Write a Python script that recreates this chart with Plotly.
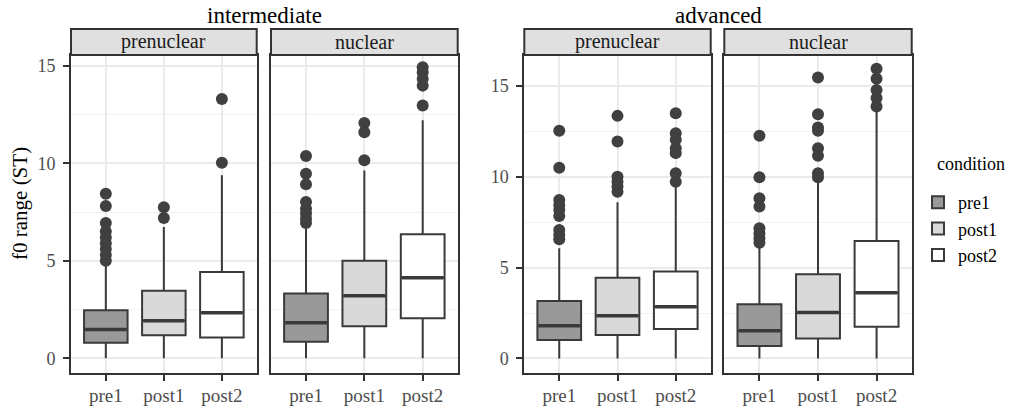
import plotly.graph_objects as go

conditions = ["pre1", "post1", "post2"]
groups = ["intermediate", "advanced"]
facets = ["prenuclear", "nuclear"]

# intermediate / prenuclear
int_pre_q1 = [0.80, 1.19, 1.07]
int_pre_med = [1.48, 1.93, 2.34]
int_pre_q3 = [2.47, 3.46, 4.43]
int_pre_lo = [0.0, 0.0, 0.0]
int_pre_hi = [4.86, 6.73, 9.38]
int_pre_out = [[8.44, 7.81, 6.94, 6.5, 6.2, 5.9, 5.6, 5.3, 5.0], [7.75, 7.19], [13.3, 10.03]]

# intermediate / nuclear
int_nuc_q1 = [0.85, 1.65, 2.05]
int_nuc_med = [1.82, 3.21, 4.13]
int_nuc_q3 = [3.32, 5.00, 6.36]
int_nuc_lo = [0.0, 0.0, 0.0]
int_nuc_hi = [6.73, 9.63, 12.2]
int_nuc_out = [[10.37, 9.46, 8.92, 8.01, 7.67, 7.42, 7.16, 6.94], [12.07, 11.59, 10.15], [14.92, 14.66, 14.32, 13.98, 12.96]]

# advanced / prenuclear
adv_pre_q1 = [1.01, 1.29, 1.62]
adv_pre_med = [1.80, 2.35, 2.85]
adv_pre_q3 = [3.16, 4.44, 4.78]
adv_pre_lo = [0.0, 0.0, 0.0]
adv_pre_hi = [6.06, 8.60, 9.46]
adv_pre_out = [[12.53, 10.5, 8.72, 8.45, 8.17, 7.84, 7.07, 6.8, 6.56], [13.35, 11.94, 10.0, 9.73, 9.46, 9.18], [13.5, 12.4, 12.03, 11.57, 11.3, 10.19, 9.73]]

# advanced / nuclear
adv_nuc_q1 = [0.68, 1.10, 1.74]
adv_nuc_med = [1.52, 2.53, 3.62]
adv_nuc_q3 = [2.99, 4.63, 6.46]
adv_nuc_lo = [0.0, 0.0, 0.0]
adv_nuc_hi = [6.15, 9.73, 13.59]
adv_nuc_out = [[12.25, 9.97, 8.82, 8.36, 7.16, 6.89, 6.61, 6.37], [15.46, 13.44, 12.71, 12.53, 11.57, 11.15, 10.19, 9.97], [15.94, 15.39, 14.78, 14.33, 13.87]]

y_ticks = [0, 5, 10, 15]

panels = [
    (int_pre_q1, int_pre_med, int_pre_q3, int_pre_lo, int_pre_hi, int_pre_out),
    (int_nuc_q1, int_nuc_med, int_nuc_q3, int_nuc_lo, int_nuc_hi, int_nuc_out),
    (adv_pre_q1, adv_pre_med, adv_pre_q3, adv_pre_lo, adv_pre_hi, adv_pre_out),
    (adv_nuc_q1, adv_nuc_med, adv_nuc_q3, adv_nuc_lo, adv_nuc_hi, adv_nuc_out),
]

fills = ["#999999", "#d9d9d9", "#ffffff"]
line_col = "#3a3a3a"
W, H = 1025, 407
FONT = "Liberation Serif"
box_w = 0.75

x_dom = [(71, 256.7), (271, 457.7), (524.3, 710.7), (724.3, 911.7)]
y_dom = (1 - 373 / H, 1 - 55 / H)
y_ranges = [(-0.75, 15.55), (-0.75, 15.55), (-0.8, 16.7), (-0.8, 16.7)]

fig = go.Figure()
layout = {}
for p, (q1, med, q3, lo, hi, out) in enumerate(panels):
    ax = "" if p == 0 else str(p + 1)
    xa, ya = "x" + ax, "y" + ax
    for i, c in enumerate(conditions):
        fig.add_trace(go.Box(
            x=[i], q1=[q1[i]], median=[med[i]], q3=[q3[i]],
            lowerfence=[lo[i]], upperfence=[hi[i]],
            width=box_w, whiskerwidth=0, boxpoints=False,
            fillcolor=fills[i], line=dict(color=line_col, width=2),
            name=c, legendgroup=c, showlegend=(p == 0),
            xaxis=xa, yaxis=ya, hoverinfo="skip"))
        fig.add_trace(go.Scatter(
            x=[i - box_w / 2 + 0.02, i + box_w / 2 - 0.02], y=[med[i], med[i]],
            mode="lines", line=dict(color=line_col, width=3.5),
            showlegend=False, xaxis=xa, yaxis=ya, hoverinfo="skip"))
        fig.add_trace(go.Scatter(
            x=[i] * len(out[i]), y=out[i], mode="markers",
            marker=dict(color="#404040", size=12, line=dict(width=0)),
            showlegend=False, xaxis=xa, yaxis=ya, hoverinfo="skip"))
    x0, x1 = x_dom[p]
    layout["xaxis" + ax] = dict(
        domain=[x0 / W, x1 / W], range=[-0.6, 2.6],
        tickvals=[0, 1, 2], ticktext=conditions, anchor=ya,
        showgrid=True, gridcolor="#ebebeb", gridwidth=1.5,
        showline=True, linecolor="#333333", linewidth=2, mirror=True,
        ticks="outside", ticklen=6, tickwidth=1.5, tickcolor="#333333",
        ticklabelstandoff=-2,
        tickfont=dict(family=FONT, size=19, color="#4d4d4d"),
        zeroline=False, fixedrange=True)
    show_labels = p in (0, 2)
    layout["yaxis" + ax] = dict(
        domain=list(y_dom), range=list(y_ranges[p]), anchor=xa,
        tickvals=y_ticks, showticklabels=show_labels,
        ticks="outside" if show_labels else "", ticklen=6, tickwidth=1.5, tickcolor="#333333",
        ticklabelstandoff=4,
        showgrid=True, gridcolor="#ebebeb", gridwidth=1.5,
        minor=dict(dtick=2.5, tick0=0, showgrid=True, gridcolor="#f2f2f2", gridwidth=0.8),
        showline=True, linecolor="#333333", linewidth=2, mirror=True,
        tickfont=dict(family=FONT, size=18, color="#4d4d4d"),
        zeroline=False, fixedrange=True)

shapes = []
annotations = []
for p in range(4):
    ax = "x" if p == 0 else "x" + str(p + 1)
    shapes.append(dict(type="rect", xref=ax + " domain", yref="paper",
                       x0=0, x1=1, y0=1 - 55 / H, y1=1 - 29 / H,
                       fillcolor="#e0e0e0", line=dict(color="#333333", width=2), layer="above"))
    x0, x1 = x_dom[p]
    annotations.append(dict(text=facets[p % 2], x=(x0 + x1) / 2 / W, y=1 - 42 / H,
                            xref="paper", yref="paper", showarrow=False,
                            xanchor="center", yanchor="middle",
                            font=dict(family=FONT, size=20, color="#1a1a1a")))
for g in range(2):
    gx = (x_dom[2 * g][0] + x_dom[2 * g + 1][1]) / 2 / W
    annotations.append(dict(text=groups[g], x=gx, y=1 - 15 / H, xref="paper", yref="paper",
                            showarrow=False, xanchor="center", yanchor="middle",
                            font=dict(family=FONT, size=23, color="#000000")))
annotations.append(dict(text="f0 range (ST)", x=20 / W, y=1 - 204 / H, xref="paper", yref="paper",
                        showarrow=False, textangle=-90, xanchor="center", yanchor="middle",
                        font=dict(family=FONT, size=21, color="#000000")))
annotations.append(dict(text="condition", x=935 / W, y=1 - 164 / H, xref="paper", yref="paper",
                        showarrow=False, xanchor="left", yanchor="middle",
                        font=dict(family=FONT, size=18, color="#000000")))

fig.update_layout(
    width=W, height=H, margin=dict(l=0, r=0, t=0, b=0),
    paper_bgcolor="white", plot_bgcolor="white",
    boxmode="overlay",
    shapes=shapes, annotations=annotations,
    legend=dict(x=918 / W, y=1 - 184 / H, xanchor="left", yanchor="top",
                font=dict(family=FONT, size=18, color="#000000"),
                tracegroupgap=0, bgcolor="rgba(0,0,0,0)"),
    **layout)

fig.write_html("out.html", config={"displayModeBar": False},
               post_script="document.body.style.margin='0px';")
